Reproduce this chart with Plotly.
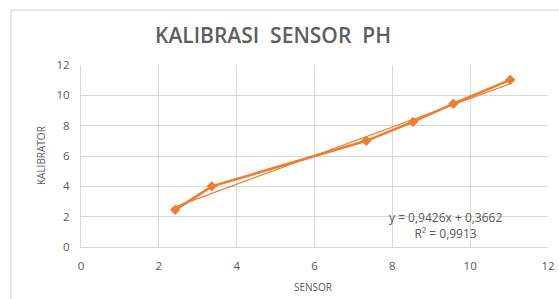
import plotly.graph_objects as go

sensor = [2.42, 3.36, 7.33, 8.53, 9.57, 11.03]
kalibrator = [2.45, 4.0, 7.0, 8.25, 9.45, 11.02]
slope = 0.9426
intercept = 0.3662
r2 = 0.9913
x_ticks = [0, 2, 4, 6, 8, 10, 12]
y_ticks = [0, 2, 4, 6, 8, 10, 12]

orange = "#ED7D31"
grey_text = "#595959"
grid = "#D9D9D9"
FONT = "Open Sans, sans-serif"

trend_x = [min(sensor), max(sensor)]
trend_y = [slope * v + intercept for v in trend_x]

fig = go.Figure()
fig.add_trace(go.Scatter(x=trend_x, y=trend_y, mode="lines",
                         line=dict(color=orange, width=1.3), showlegend=False,
                         hoverinfo="skip"))
fig.add_trace(go.Scatter(x=sensor, y=kalibrator, mode="lines+markers",
                         line=dict(color=orange, width=2.6),
                         marker=dict(symbol="diamond", size=8, color=orange),
                         showlegend=False))

fig.add_annotation(x=9.36, y=1.45, xref="x", yref="y",
                   text=f"y = {slope:.4f}x + {intercept:.4f}".replace(".", ",")
                   + "<br>" + f"R² = {r2:.4f}".replace(".", ","),
                   showarrow=False, align="center",
                   font=dict(family=FONT, size=12, color=grey_text))

# chart title
fig.add_annotation(x=0.412, y=1.165, xref="paper", yref="paper",
                   text="KALIBRASI\u00a0\u00a0SENSOR\u00a0\u00a0PH", showarrow=False,
                   xanchor="center", yanchor="middle",
                   font=dict(family=FONT, size=21, color="#5f5f5f", weight=600))
# axis titles
fig.add_annotation(x=0.497, y=-0.22, xref="paper", yref="paper",
                   text="SENSOR", showarrow=False, xanchor="center", yanchor="middle",
                   font=dict(family=FONT, size=10, color=grey_text))
fig.add_annotation(x=-0.0857, y=0.505, xref="paper", yref="paper",
                   text="KALIBRATOR", showarrow=False, textangle=-90,
                   xanchor="center", yanchor="middle",
                   font=dict(family=FONT, size=10, color=grey_text))

fig.add_shape(type="rect", xref="paper", yref="paper",
              x0=-0.15, x1=1.1, y0=-0.35, y1=1.302,
              line=dict(color="#D0D0D0", width=1), fillcolor="rgba(0,0,0,0)",
              layer="below")

fig.update_layout(
    width=559, height=299,
    margin=dict(l=81, r=11, t=65, b=52),
    paper_bgcolor="white", plot_bgcolor="white",
    xaxis=dict(range=[0, 12], tickvals=x_ticks, showgrid=True, gridcolor=grid,
               gridwidth=1, zeroline=False, showline=True, linecolor=grid,
               automargin=False, ticks="outside", ticklen=8, tickcolor="rgba(0,0,0,0)",
               tickfont=dict(family=FONT, size=11.5, color=grey_text)),
    yaxis=dict(range=[0, 12], tickvals=y_ticks, showgrid=True, gridcolor=grid,
               gridwidth=1, zeroline=False, showline=True, linecolor=grid,
               automargin=False, ticks="outside", ticklen=8, tickcolor="rgba(0,0,0,0)",
               tickfont=dict(family=FONT, size=11.5, color=grey_text)),
)

fig.write_html("out.html", config={"displayModeBar": False},
               post_script="document.body.style.margin='0';document.body.style.overflow='hidden';")
